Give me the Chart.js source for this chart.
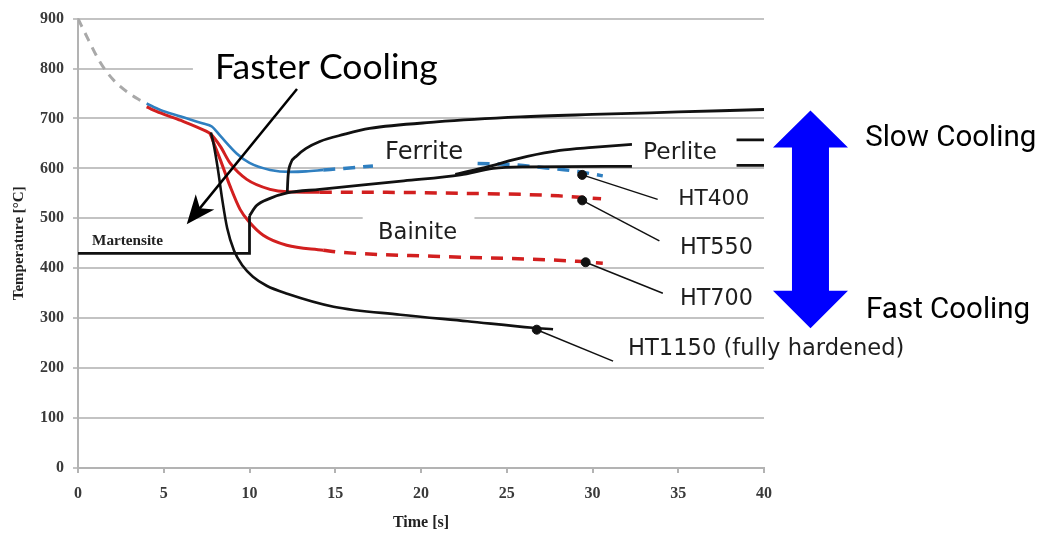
<!DOCTYPE html>
<html>
<head>
<meta charset="utf-8">
<title>Cooling curves</title>
<script src="https://cdn.jsdelivr.net/npm/chart.js@4.4.0/dist/chart.umd.min.js"></script>
<style>
  html, body { margin: 0; padding: 0; background: #fff; }
</style>
</head>
<body>
<canvas id="coolingChart" width="1037" height="533"></canvas>
<script>
// ==== DATA: [time s, temperature °C] ====
const xTicks = [0, 5, 10, 15, 20, 25, 30, 35, 40];
const yTicks = [0, 100, 200, 300, 400, 500, 600, 700, 800, 900];

const austenitize = [[0, 900], [0.6, 858], [1.2, 818], [1.7, 792], [2.3, 769], [3.0, 750], [3.5, 739], [4.0, 730]];

const ht400Solid = [[4.0, 730], [4.8, 717], [6.0, 704], [7.3, 690], [7.8, 684], [8.3, 665], [9.25, 630], [10.0, 611], [11.2, 597], [12.4, 593], [13.3, 594], [14.3, 597]];
const ht400DashA = [[14.3, 597], [15.5, 600], [17.2, 605]];
const ht400DashB = [[23.3, 610], [25.5, 607], [27.3, 601], [29.1, 594], [30.6, 585]];

const ht550Solid = [[4.0, 723], [4.8, 711], [6.0, 696], [7.5, 674], [7.7, 670], [8.3, 644], [8.86, 611], [9.84, 578], [11.2, 558], [12.2, 553], [14.1, 552]];
const ht550Dash = [[14.1, 552], [18, 552], [22.3, 550], [25.8, 548], [28, 545], [30.5, 539]];

const ht700Solid = [[7.7, 670], [8.3, 617], [8.86, 565], [9.45, 518], [10, 492], [10.8, 466], [12.17, 446], [14.3, 436]];
const ht700Dash = [[14.3, 436], [15.3, 432], [20.7, 424], [26.5, 418], [29.1, 414], [30.6, 410]];

const ht1150 = [[7.75, 672], [7.9, 650], [8.15, 600], [8.4, 540], [8.7, 480], [9.1, 435], [9.6, 405], [10.2, 383], [11.0, 365], [12.2, 349], [14.9, 323], [18.8, 307], [22.7, 294], [26.5, 281], [27.7, 278]];

const ferriteStart = [[12.2, 551], [12.25, 585], [12.4, 610], [12.75, 625], [13.3, 640], [14.1, 654], [15.5, 668], [17, 680], [20.9, 693], [25.8, 703], [30, 708], [35, 713], [40, 718]];
const martensiteLine = [[0, 430], [10, 430], [10, 505]];
const bainiteStart = [[10, 505], [10.4, 525], [11.2, 540], [12.2, 551], [14.1, 558], [19, 575], [22.3, 587], [24.2, 600], [26, 603], [32.3, 604]];
const perliteStart = [[22, 588], [23.5, 600], [26.2, 624], [28.1, 636], [30, 642], [32.3, 648]];
const perliteMarkTop = [[38.4, 657], [40, 657]];
const perliteMarkLow = [[38.4, 606], [40, 606]];

const hardnessDots = [[29.4, 587], [29.4, 536], [29.6, 412], [26.75, 277]];
const leaderEnds = [[33.8, 538], [33.9, 455], [34.1, 350], [31.2, 214]];

// ==== LOOK ====
const GRID = "#c3c3c3";
const AXIS = "#b3b3b3";
const RED = "#d21f1f";
const BLUE = "#2f7fc0";

// label text, anchor in data units, width in px used to size the font
const labelSpecs = [
  { text: "Faster Cooling", t: 7.99, temp: 779, width: 223, family: "Lato", weight: "normal", align: "left", color: "#000" },
  { text: "Ferrite", t: 20.18, temp: 619, width: 78, family: "DejaVu Sans", weight: "normal", align: "center", color: "#1e1e1e" },
  { text: "Bainite", t: 19.8, temp: 459, width: 79, family: "DejaVu Sans", weight: "normal", align: "center", color: "#1e1e1e" },
  { text: "Perlite", t: 35.1, temp: 619, width: 74, family: "DejaVu Sans", weight: "normal", align: "center", color: "#1e1e1e" },
  { text: "HT400", t: 35.0, temp: 526, width: 71, family: "DejaVu Sans", weight: "normal", align: "left", color: "#1e1e1e" },
  { text: "HT550", t: 35.1, temp: 429, width: 73, family: "DejaVu Sans", weight: "normal", align: "left", color: "#1e1e1e" },
  { text: "HT700", t: 35.1, temp: 326, width: 73, family: "DejaVu Sans", weight: "normal", align: "left", color: "#1e1e1e" },
  { text: "HT1150 (fully hardened)", t: 32.07, temp: 227, width: 277, family: "DejaVu Sans", weight: "normal", align: "left", color: "#1e1e1e" },
  { text: "Martensite", t: 0.82, temp: 446, width: 71, family: "Liberation Serif", weight: "bold", align: "left", color: "#222" },
  { text: "Slow Cooling", t: 45.9, temp: 645, width: 171, family: "Roboto", weight: "normal", align: "left", color: "#000" },
  { text: "Fast Cooling", t: 45.95, temp: 300, width: 164, family: "Roboto", weight: "normal", align: "left", color: "#000" }
];

// bits of gridline covered by white in the source picture
const gridGaps = [
  { temp: 800, from: 6.7, to: 40 },
  { temp: 500, from: 16.6, to: 23.0 }
];

// ==== helpers ====
function pts(arr) {
  return arr.map(p => ({ x: p[0], y: p[1] }));
}

function curve(arr, color, width, dash, extra) {
  return Object.assign({
    data: pts(arr),
    showLine: true,
    borderColor: color,
    borderWidth: width,
    borderDash: dash || [],
    pointRadius: 0,
    cubicInterpolationMode: "monotone",
    borderCapStyle: "butt",
    order: 2
  }, extra || {});
}

function leaders() {
  return hardnessDots.map((d, i) =>
    curve([d, leaderEnds[i]], "#111", 1.5, null, { cubicInterpolationMode: "default", tension: 0, order: 1 })
  );
}

// ==== annotation plugin: gaps, labels, arrows ====
const annotate = {
  id: "annotate",
  beforeDatasetsDraw(chart) {
    const { ctx, scales: { x, y } } = chart;
    ctx.save();
    ctx.fillStyle = "#fff";
    gridGaps.forEach(g => {
      const x0 = x.getPixelForValue(g.from);
      const x1 = x.getPixelForValue(g.to) + 2;
      const yy = y.getPixelForValue(g.temp);
      ctx.fillRect(x0, yy - 2.5, x1 - x0, 5);
    });
    ctx.restore();
  },
  afterDatasetsDraw(chart) {
    const { ctx, scales: { x, y } } = chart;
    ctx.save();

    // text labels
    labelSpecs.forEach(l => {
      ctx.font = `${l.weight} 100px "${l.family}"`;
      const size = 100 * l.width / ctx.measureText(l.text).width;
      ctx.font = `${l.weight} ${size.toFixed(1)}px "${l.family}"`;
      ctx.fillStyle = l.color;
      ctx.textAlign = l.align;
      ctx.textBaseline = "alphabetic";
      ctx.fillText(l.text, x.getPixelForValue(l.t), y.getPixelForValue(l.temp));
    });

    // "Faster Cooling" arrow
    const tx = x.getPixelForValue(12.77), ty = y.getPixelForValue(759);
    const hx = x.getPixelForValue(6.34), hy = y.getPixelForValue(488);
    const ang = Math.atan2(hy - ty, hx - tx);
    const headLen = 29, headHalf = 12;
    ctx.strokeStyle = "#000";
    ctx.lineWidth = 2.5;
    ctx.beginPath();
    ctx.moveTo(tx, ty);
    ctx.lineTo(hx - Math.cos(ang) * headLen * 0.7, hy - Math.sin(ang) * headLen * 0.7);
    ctx.stroke();
    const bx = hx - Math.cos(ang) * headLen, by = hy - Math.sin(ang) * headLen;
    ctx.fillStyle = "#000";
    ctx.beginPath();
    ctx.moveTo(hx, hy);
    ctx.lineTo(bx + Math.sin(ang) * headHalf, by - Math.cos(ang) * headHalf);
    ctx.lineTo(hx - Math.cos(ang) * headLen * 0.72, hy - Math.sin(ang) * headLen * 0.72);
    ctx.lineTo(bx - Math.sin(ang) * headHalf, by + Math.cos(ang) * headHalf);
    ctx.closePath();
    ctx.fill();

    // blue double arrow (slow / fast cooling)
    const cx = x.getPixelForValue(42.71);
    const top = y.getPixelForValue(716), topBase = y.getPixelForValue(642);
    const bot = y.getPixelForValue(280), botBase = y.getPixelForValue(355);
    const head = 37.5, shaft = 18.5;
    ctx.fillStyle = "#0000ff";
    ctx.beginPath();
    ctx.moveTo(cx, top);
    ctx.lineTo(cx + head, topBase);
    ctx.lineTo(cx + shaft, topBase);
    ctx.lineTo(cx + shaft, botBase);
    ctx.lineTo(cx + head, botBase);
    ctx.lineTo(cx, bot);
    ctx.lineTo(cx - head, botBase);
    ctx.lineTo(cx - shaft, botBase);
    ctx.lineTo(cx - shaft, topBase);
    ctx.lineTo(cx - head, topBase);
    ctx.closePath();
    ctx.fill();

    ctx.restore();
  }
};

const tickFont = { family: '"Liberation Serif", "DejaVu Serif", serif', size: 16, weight: "bold" };

new Chart(document.getElementById("coolingChart").getContext("2d"), {
  type: "scatter",
  data: {
    datasets: [
      curve(austenitize, "#a9a9a9", 3, [9, 7]),
      curve(ferriteStart, "#111", 2.8),
      curve(martensiteLine, "#111", 2.8, null, { cubicInterpolationMode: "default", tension: 0 }),
      curve(bainiteStart, "#111", 2.8),
      curve(perliteStart, "#111", 2.8),
      curve(perliteMarkTop, "#111", 2.8, null, { tension: 0, cubicInterpolationMode: "default" }),
      curve(perliteMarkLow, "#111", 2.8, null, { tension: 0, cubicInterpolationMode: "default" }),
      curve(ht1150, "#111", 2.6),
      curve(ht700Solid, RED, 3),
      curve(ht700Dash, RED, 3.5, [12, 9]),
      curve(ht550Solid, RED, 3),
      curve(ht550Dash, RED, 3.5, [12, 9]),
      curve(ht400Solid, BLUE, 2.6),
      curve(ht400DashA, BLUE, 3.5, [12, 8]),
      curve(ht400DashB, BLUE, 3.5, [12, 8]),
      ...leaders(),
      {
        data: pts(hardnessDots),
        showLine: false,
        pointRadius: 4.5,
        pointBackgroundColor: "#111",
        pointBorderColor: "#111",
        order: 0
      }
    ]
  },
  options: {
    responsive: false,
    animation: false,
    layout: { padding: { left: 0, right: 273, top: 14, bottom: 0 } },
    plugins: {
      legend: { display: false },
      tooltip: { enabled: false }
    },
    scales: {
      x: {
        type: "linear",
        min: xTicks[0],
        max: xTicks[xTicks.length - 1],
        afterBuildTicks: axis => { axis.ticks = xTicks.map(v => ({ value: v })); },
        afterFit: scale => { scale.height = 65; },
        ticks: { color: "#3a3a3a", font: tickFont, padding: 11 },
        grid: { drawOnChartArea: false, drawTicks: true, tickLength: 5, color: AXIS, lineWidth: 2 },
        border: { color: AXIS, width: 2 },
        title: {
          display: true,
          text: "Time [s]",
          color: "#222",
          font: { family: '"Liberation Serif", serif', size: 16, weight: "bold" },
          padding: { top: 0, bottom: 1 }
        }
      },
      y: {
        type: "linear",
        min: yTicks[0],
        max: yTicks[yTicks.length - 1],
        afterBuildTicks: axis => { axis.ticks = yTicks.map(v => ({ value: v })); },
        afterFit: scale => { scale.width = 78; },
        ticks: { color: "#3a3a3a", font: tickFont, padding: 9 },
        grid: { color: GRID, lineWidth: 2, tickLength: 5 },
        border: { color: AXIS, width: 2 },
        title: {
          display: true,
          text: "Temperature [°C]",
          color: "#222",
          font: { family: '"Liberation Serif", serif', size: 15, weight: "bold" },
          padding: { top: 10, bottom: 0 }
        }
      }
    }
  },
  plugins: [annotate]
});
</script>
</body>
</html>
